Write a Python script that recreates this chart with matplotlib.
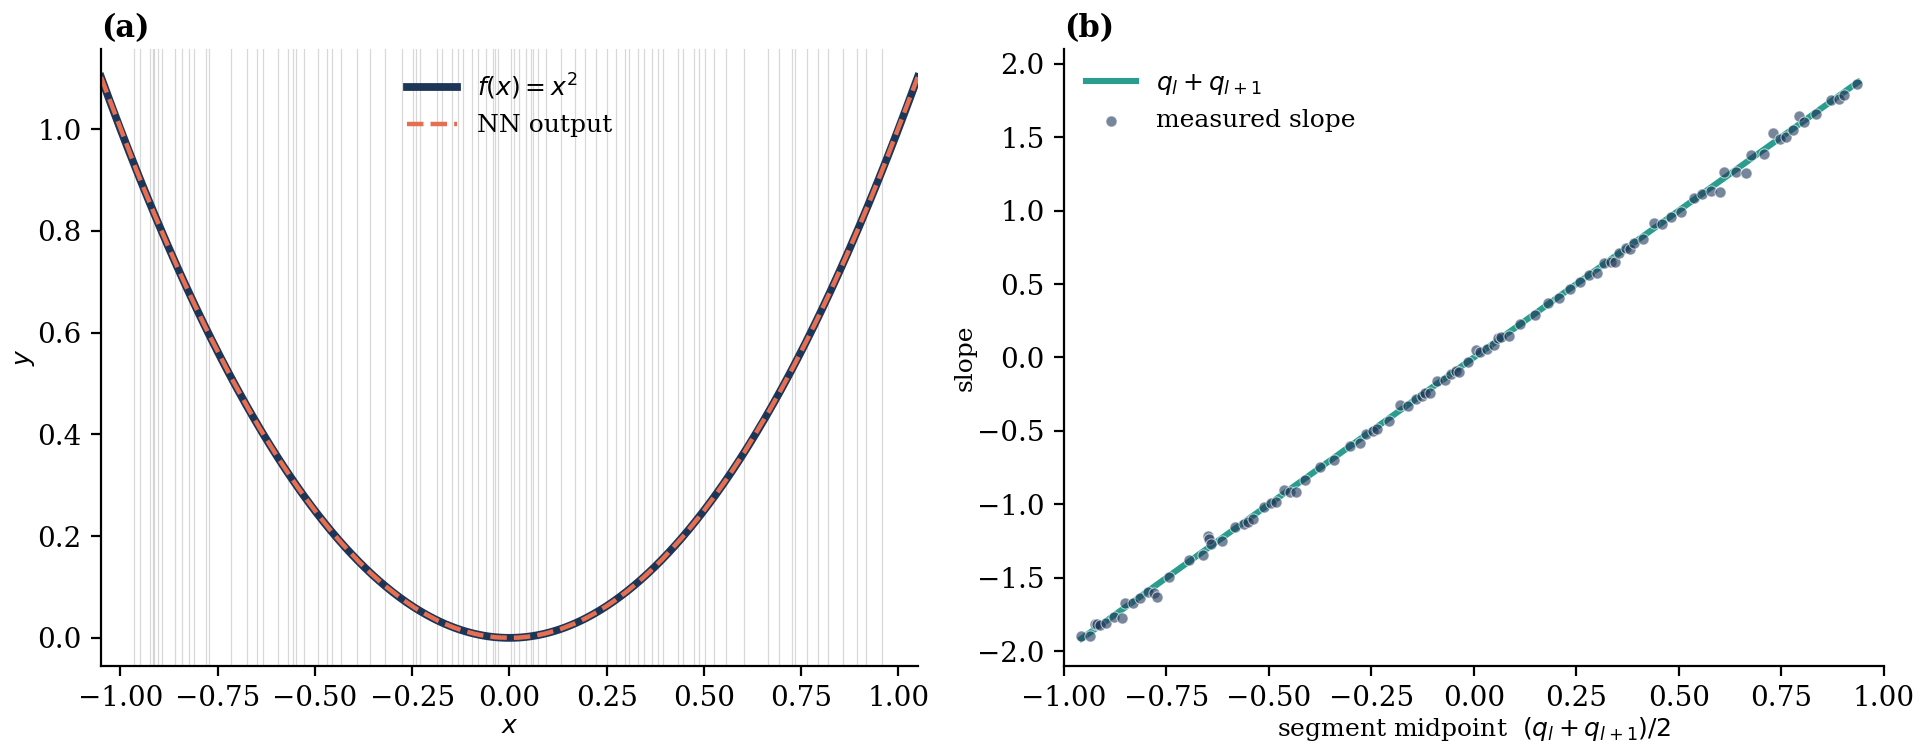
import numpy as np
import matplotlib
matplotlib.use("Agg")
import matplotlib.pyplot as plt

plt.rcParams['font.family'] = ['DejaVu Serif']
plt.rcParams['mathtext.fontset'] = 'dejavusans'
plt.rcParams['font.size'] = 9
plt.rcParams['xtick.labelsize'] = 10
plt.rcParams['ytick.labelsize'] = 10

# breakpoints q_l of the ReLU net (in panel a)
breakpoints = [-0.965, -0.950, -0.924, -0.9175, -0.914, -0.903, -0.893, -0.859, -0.842,
               -0.823, -0.810, -0.781, -0.772, -0.715, -0.674, -0.648, -0.633, -0.596,
               -0.568, -0.556, -0.548, -0.529, -0.493, -0.470, -0.457, -0.433, -0.391,
               -0.358, -0.321, -0.277, -0.248, -0.239, -0.229, -0.186, -0.172, -0.148,
               -0.132, -0.120, -0.095, -0.081, -0.061, -0.043, -0.037, -0.029, 0.005,
               0.011, 0.026, 0.043, 0.056, 0.061, 0.073, 0.095, 0.133, 0.168, 0.195,
               0.223, 0.250, 0.275, 0.298, 0.307, 0.331, 0.347, 0.366, 0.383, 0.394,
               0.434, 0.447, 0.475, 0.487, 0.502, 0.526, 0.557, 0.604, 0.664, 0.694,
               0.727, 0.735, 0.765, 0.794, 0.820, 0.859, 0.893, 0.918, 0.958]

# measured slopes per segment (panel b)
mid_x = [-0.958, -0.937, -0.925, -0.920, -0.912, -0.898, -0.877, -0.859, -0.850, -0.832,
         -0.815, -0.796, -0.781, -0.773, -0.744, -0.695, -0.661, -0.649, -0.646, -0.642,
         -0.614, -0.582, -0.561, -0.551, -0.539, -0.512, -0.496, -0.483, -0.463, -0.448,
         -0.433, -0.412, -0.375, -0.341, -0.302, -0.277, -0.263, -0.245, -0.235, -0.208,
         -0.180, -0.161, -0.140, -0.126, -0.120, -0.108, -0.089, -0.071, -0.056, -0.044,
         -0.037, -0.013, 0.005, 0.016, 0.033, 0.050, 0.059, 0.067, 0.085, 0.113,
         0.150, 0.181, 0.207, 0.236, 0.260, 0.281, 0.301, 0.317, 0.336, 0.345,
         0.354, 0.372, 0.380, 0.390, 0.412, 0.439, 0.459, 0.481, 0.505, 0.537,
         0.556, 0.580, 0.602, 0.611, 0.639, 0.664, 0.676, 0.708, 0.730, 0.747,
         0.762, 0.780, 0.794, 0.806, 0.835, 0.871, 0.891, 0.904, 0.935]
slope = [-1.893, -1.893, -1.818, -1.818, -1.823, -1.805, -1.769, -1.773, -1.675, -1.675,
         -1.637, -1.598, -1.603, -1.630, -1.492, -1.378, -1.342, -1.217, -1.236, -1.270,
         -1.249, -1.152, -1.134, -1.118, -1.097, -1.018, -0.993, -0.984, -0.900, -0.916,
         -0.916, -0.832, -0.746, -0.696, -0.601, -0.583, -0.519, -0.503, -0.487, -0.431,
         -0.322, -0.329, -0.281, -0.260, -0.242, -0.242, -0.160, -0.154, -0.115, -0.092,
         -0.101, -0.034, 0.053, 0.037, 0.057, 0.087, 0.132, 0.139, 0.143, 0.227,
         0.288, 0.370, 0.406, 0.465, 0.515, 0.561, 0.575, 0.642, 0.651, 0.651,
         0.714, 0.744, 0.737, 0.778, 0.805, 0.914, 0.907, 0.959, 0.989, 1.084,
         1.114, 1.134, 1.125, 1.261, 1.261, 1.254, 1.379, 1.383, 1.527, 1.486,
         1.504, 1.550, 1.643, 1.602, 1.659, 1.754, 1.759, 1.788, 1.862]

navy = '#1d3557'
orange = '#e76f51'
teal = '#2a9d8f'

q = np.array(breakpoints)
q_mid = (q[:-1] + q[1:]) / 2
q_sum = q[:-1] + q[1:]

xs = np.linspace(-1.05, 1.05, 600)
nn_out = np.interp(xs, np.concatenate([[-1.05], q, [1.05]]),
                   np.concatenate([[-1.05], q, [1.05]]) ** 2)

fig = plt.figure(figsize=(9.62, 3.775), dpi=200)
ax1 = fig.add_axes([0.0525, 0.118, 0.4245, 0.817])
ax2 = fig.add_axes([0.553, 0.118, 0.426, 0.817])

for b in breakpoints:
    ax1.axvline(b, color='grey', alpha=0.3, lw=0.45, zorder=0)
ax1.plot(xs, xs ** 2, color=navy, lw=2.8, label='$f(x) = x^2$')
ax1.plot(xs, nn_out, color=orange, lw=1.6, ls='--', label='NN output')
ax1.set_xlim(-1.05, 1.05)
ax1.set_xlabel('$x$', labelpad=1)
ax1.set_ylabel('$y$', labelpad=0)
ax1.set_title('(a)', loc='left', fontweight='bold', fontsize=11, pad=4.5)
ax1.legend(loc='upper center', frameon=False)

ax2.plot(q_mid, q_sum, color=teal, lw=2.2, label='$q_l + q_{l+1}$')
ax2.scatter(mid_x, slope, s=16, color=navy, alpha=0.6, edgecolors='white',
            linewidths=0.4, label='measured slope', zorder=3)
ax2.set_xlim(-1.0, 1.0)
ax2.set_ylim(-2.1, 2.1)
ax2.set_xlabel('segment midpoint  $(q_l + q_{l+1})/2$', labelpad=1)
ax2.set_ylabel('slope', labelpad=0)
ax2.set_title('(b)', loc='left', fontweight='bold', fontsize=11, pad=4.5)
ax2.legend(loc='upper left', frameon=False)

for ax in (ax1, ax2):
    ax.spines['top'].set_visible(False)
    ax.spines['right'].set_visible(False)

fig.savefig('out.png', dpi=200)
